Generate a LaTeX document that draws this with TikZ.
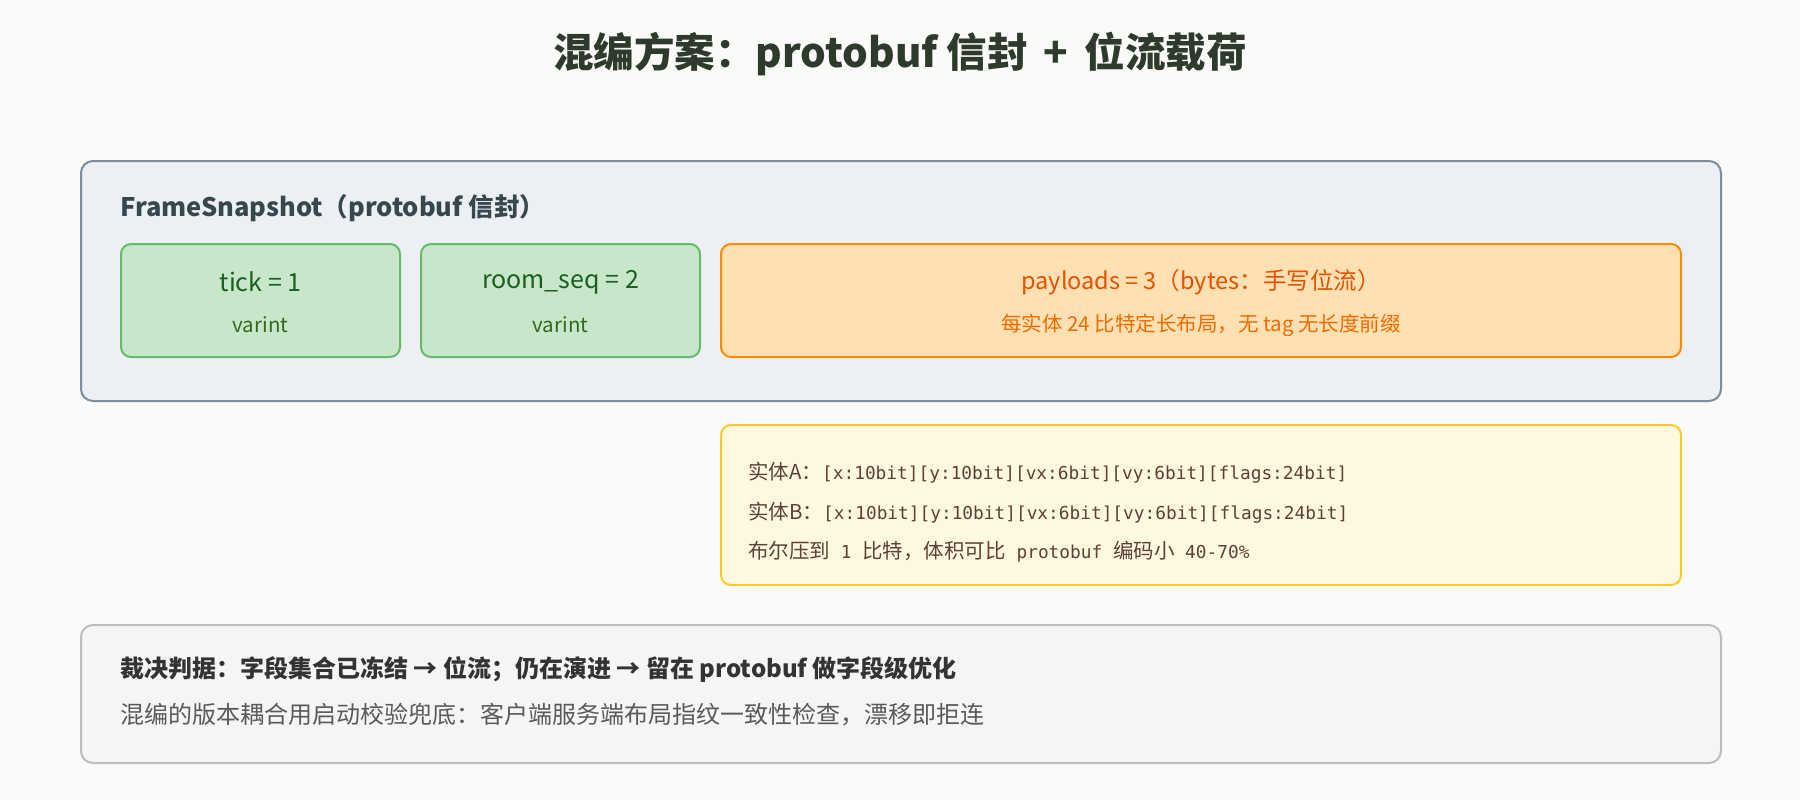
\documentclass[tikz,border=0pt]{standalone}
\usepackage{fontspec}
\setmainfont{Noto Sans CJK SC}
\setmonofont{DejaVu Sans Mono}
\usetikzlibrary{positioning}
\definecolor{bgcol}{HTML}{FAFBF9}
\definecolor{titlecol}{HTML}{2E3B2C}
\definecolor{envfill}{HTML}{ECEFF3}
\definecolor{envline}{HTML}{7B8E9C}
\definecolor{envtext}{HTML}{37474F}
\definecolor{fieldfill}{HTML}{C8E6C9}
\definecolor{fieldline}{HTML}{66BB6A}
\definecolor{fieldtext}{HTML}{1B5E20}
\definecolor{fieldsub}{HTML}{33691E}
\definecolor{payfill}{HTML}{FFE0B2}
\definecolor{payline}{HTML}{FB8C00}
\definecolor{paytext}{HTML}{E65100}
\definecolor{paysub}{HTML}{EF6C00}
\definecolor{bitfill}{HTML}{FFF8E1}
\definecolor{bitline}{HTML}{FFCA28}
\definecolor{bittext}{HTML}{5D4037}
\definecolor{notefill}{HTML}{F5F5F6}
\definecolor{noteline}{HTML}{BDBDBD}
\definecolor{notebold}{HTML}{333333}
\definecolor{notetext}{HTML}{5A5A5A}
\tikzset{%
  mybox/.style={rounded corners=12pt, line width=2pt, inner sep=0pt, anchor=north west},
  fieldbox/.style={mybox, rounded corners=10pt, fill=fieldfill, draw=fieldline,
    minimum width=279pt, minimum height=113pt},
  mytext/.style={inner sep=0pt, font=\fontsize{25}{30}\selectfont},
  mysub/.style={inner sep=0pt, font=\fontsize{20.5}{24}\selectfont},
  bitline/.style={inner sep=0pt, anchor=west, text=bittext, font=\fontsize{17.8}{21}\selectfont}
}
\newcommand{\zh}[1]{{\rmfamily\fontsize{20.5}{24}\selectfont #1}}

\begin{document}
\begin{tikzpicture}[x=1pt, y=-1pt]
  \fill [bgcol] (0,0) rectangle (1800,800);
  \useasboundingbox (0,0) rectangle (1800,800);

\node [inner sep=0pt, text=titlecol, font=\fontsize{40.5}{46}\selectfont\bfseries] (title) at (900,54)
  {混编方案：protobuf 信封 \,+\, 位流载荷};

% envelope
\node [mybox, fill=envfill, draw=envline, minimum width=1640pt, minimum height=240pt] (env) at (80,160) {};
\node [inner sep=0pt, anchor=west, text=envtext, font=\fontsize{25.5}{30}\selectfont\bfseries] (envlabel) at (120,208)
  {FrameSnapshot（protobuf 信封）};

% varint fields
\foreach \n / \x / \txt in {tick/120/{tick = 1}, seq/420/{room\_seq = 2}}{
  \node [fieldbox] (\n) at (\x,243) {};
  \node [mytext, text=fieldtext] (\n top) at ([yshift=-39pt]\n.north) {\txt};
  \node [mysub, text=fieldsub] (\n sub) at ([yshift=-82pt]\n.north) {varint};
}

% payloads field
\node [mybox, rounded corners=10pt, fill=payfill, draw=payline, minimum width=960pt, minimum height=113pt] (pay) at (720,243) {};
\node [mytext, text=paytext, font=\fontsize{23.5}{28}\selectfont] (paytop) at ([yshift=-39pt]pay.north) {payloads = 3（bytes：手写位流）};
\node [mysub, text=paysub] (paysub) at ([yshift=-82pt]pay.north) {每实体 24 比特定长布局，无 tag 无长度前缀};

% bit layout
\node [mybox, rounded corners=10pt, fill=bitfill, draw=bitline, minimum width=960pt, minimum height=160pt] (bits) at (720,424) {};
\node [bitline] (entA) at (748,473) {\zh{实体A：}\texttt{[x:10bit][y:10bit][vx:6bit][vy:6bit][flags:24bit]}};
\node [bitline] (entB) at (748,513) {\zh{实体B：}\texttt{[x:10bit][y:10bit][vx:6bit][vy:6bit][flags:24bit]}};
\node [bitline] (size) at (748,552) {\zh{布尔压到}\texttt{ 1 }\zh{比特，体积可比}\texttt{ protobuf }\zh{编码小}\texttt{ 40-70\%}};

% verdict
\node [mybox, fill=notefill, draw=noteline, minimum width=1640pt, minimum height=138pt] (note) at (80,624) {};
\node [inner sep=0pt, anchor=west, text=notebold, font=\fontsize{24}{28}\selectfont\bfseries] (verdict) at (120,669)
  {裁决判据：字段集合已冻结 → 位流；仍在演进 → 留在 protobuf 做字段级优化};
\node [inner sep=0pt, anchor=west, text=notetext, font=\fontsize{24}{28}\selectfont] (check) at (120,715)
  {混编的版本耦合用启动校验兜底：客户端服务端布局指纹一致性检查，漂移即拒连};

\end{tikzpicture}
\end{document}
